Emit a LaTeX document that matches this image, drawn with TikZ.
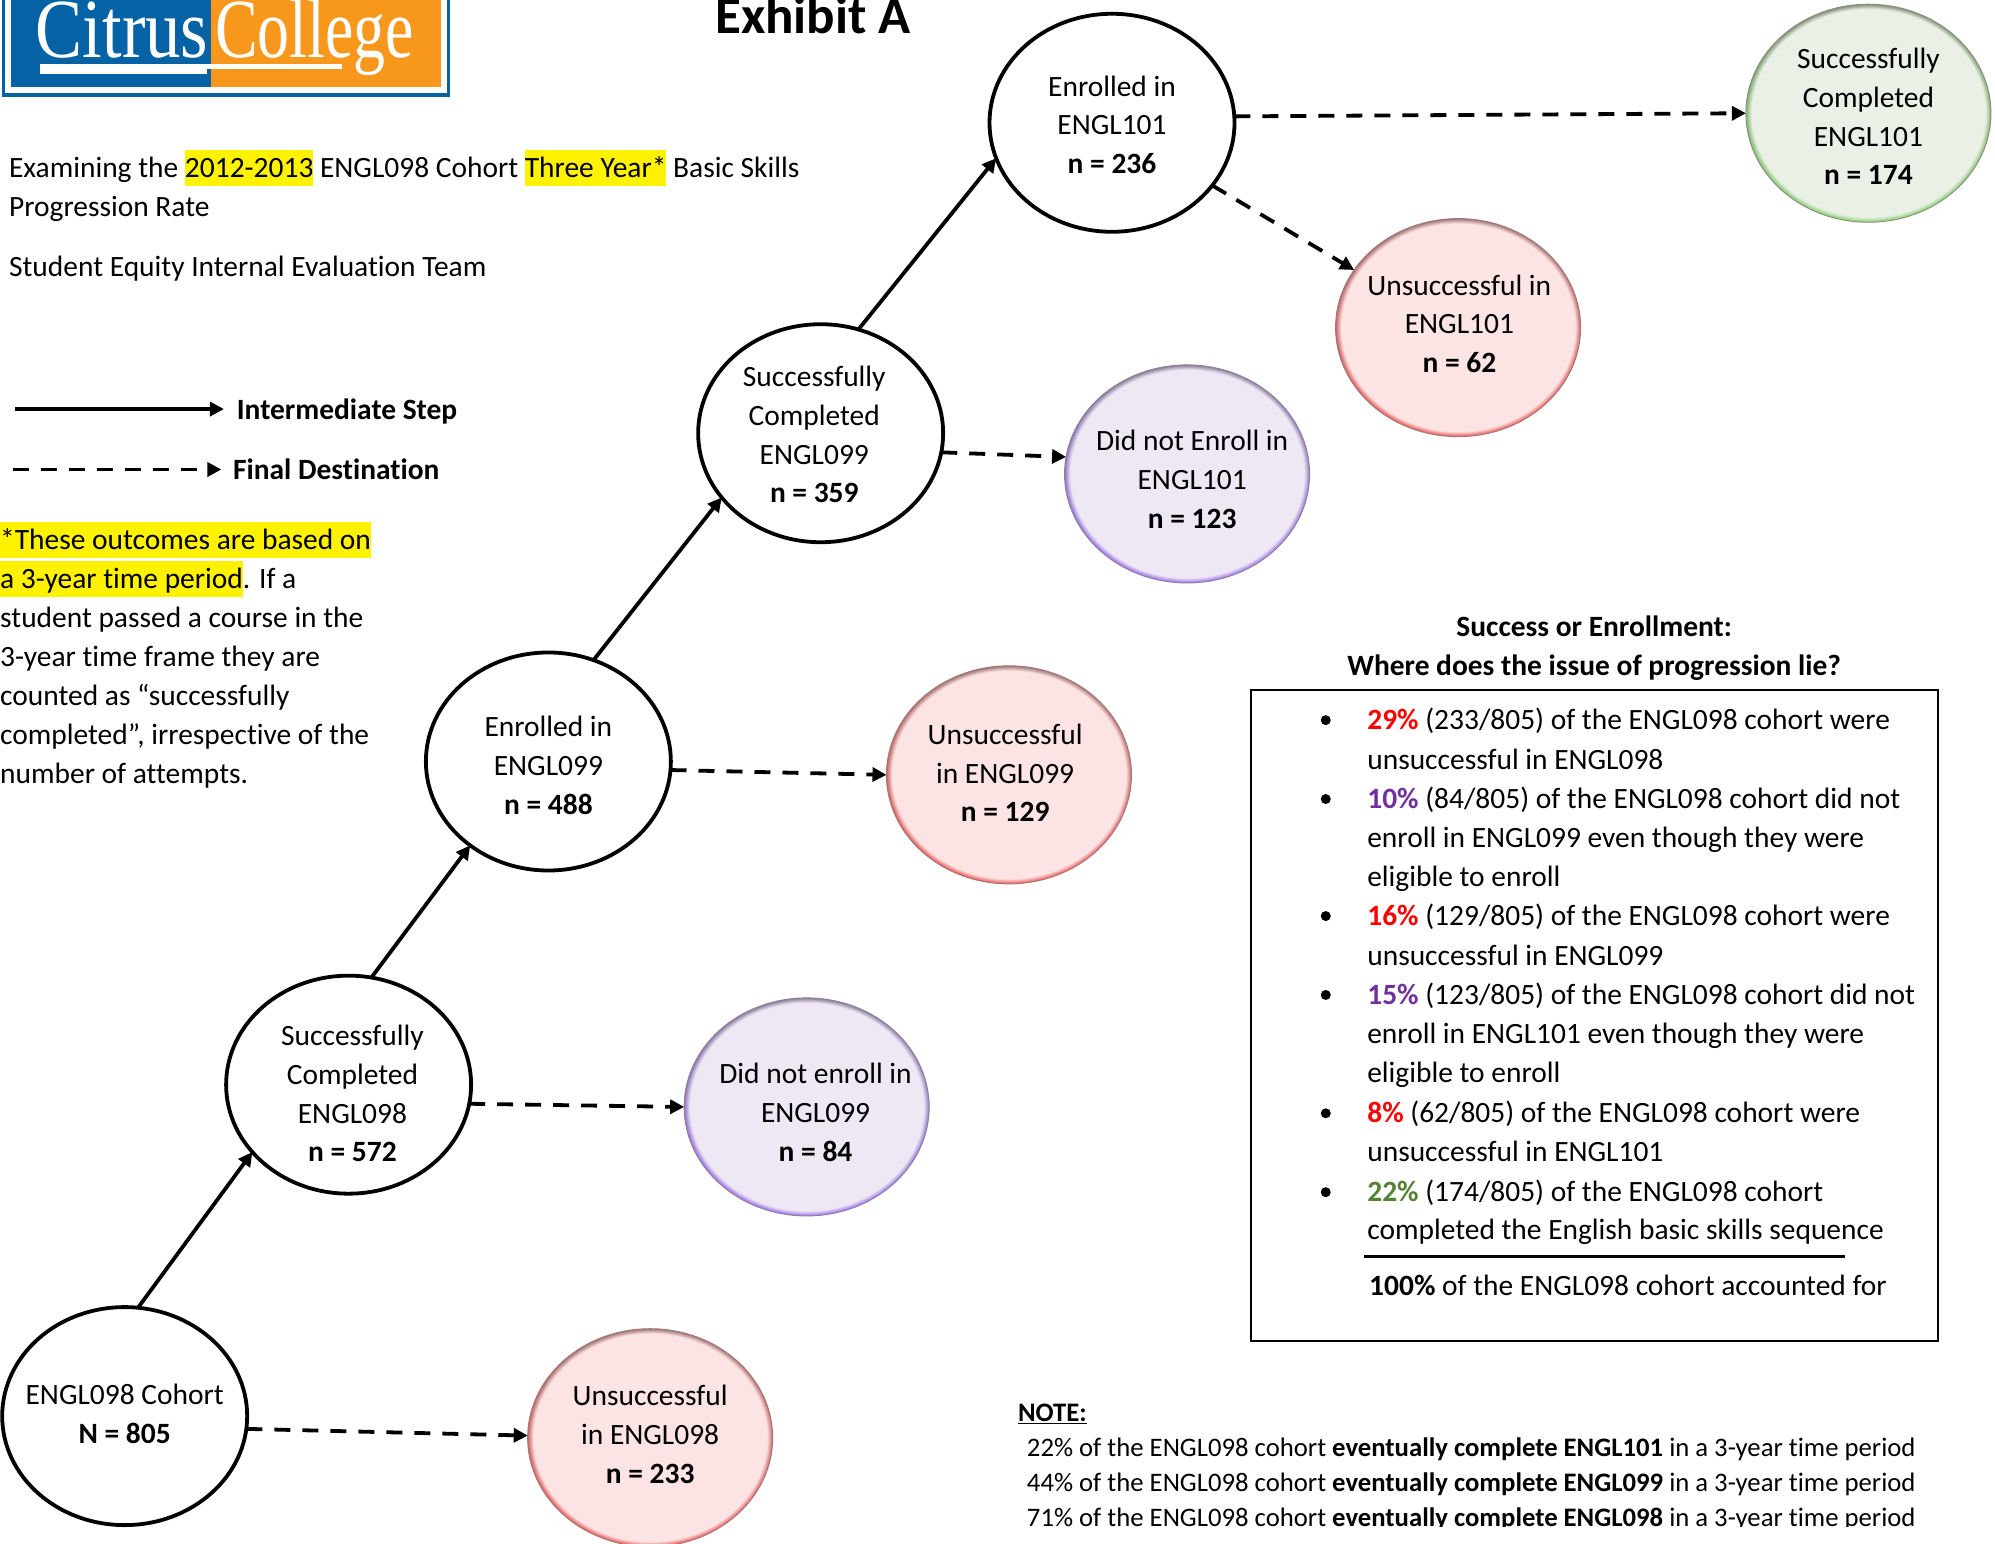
\documentclass[tikz,border=0pt]{standalone}
\usepackage{graphicx}
\usepackage{fontspec}
\setmainfont[Ligatures=NoCommon]{Carlito}
\newfontfamily\logofont{Liberation Serif}
\usetikzlibrary{shapes.geometric,arrows.meta,fadings}
\definecolor{rfill}{HTML}{FCE4E4}\definecolor{redge}{HTML}{F05858}\definecolor{rtop}{HTML}{A07878}
\definecolor{pfill}{HTML}{EEE8F4}\definecolor{pedge}{HTML}{A070F0}\definecolor{ptop}{HTML}{8C8098}
\definecolor{gfill}{HTML}{EAF0E6}\definecolor{gedge}{HTML}{88D070}\definecolor{gtop}{HTML}{84907C}
\definecolor{logoblue}{HTML}{0563A5}\definecolor{logoorange}{HTML}{F7981D}
\definecolor{pctred}{HTML}{FF0000}\definecolor{pctpurple}{HTML}{7030A0}\definecolor{pctgreen}{HTML}{548235}
\pgfdeclareradialshading{rring}{\pgfpoint{0bp}{0bp}}{color(0bp)=(rfill);color(23.9bp)=(rfill);color(25bp)=(redge);color(50bp)=(redge)}
\pgfdeclareradialshading{rtopring}{\pgfpoint{0bp}{0bp}}{color(0bp)=(rfill);color(23.9bp)=(rfill);color(25bp)=(rtop);color(50bp)=(rtop)}
\pgfdeclareradialshading{pring}{\pgfpoint{0bp}{0bp}}{color(0bp)=(pfill);color(23.9bp)=(pfill);color(25bp)=(pedge);color(50bp)=(pedge)}
\pgfdeclareradialshading{ptopring}{\pgfpoint{0bp}{0bp}}{color(0bp)=(pfill);color(23.9bp)=(pfill);color(25bp)=(ptop);color(50bp)=(ptop)}
\pgfdeclareradialshading{gring}{\pgfpoint{0bp}{0bp}}{color(0bp)=(gfill);color(23.9bp)=(gfill);color(25bp)=(gedge);color(50bp)=(gedge)}
\pgfdeclareradialshading{gtopring}{\pgfpoint{0bp}{0bp}}{color(0bp)=(gfill);color(23.9bp)=(gfill);color(25bp)=(gtop);color(50bp)=(gtop)}
\tikzset{
  whitecirc/.style={ellipse,draw=black,line width=3.8pt,fill=white,minimum width=245pt,minimum height=218pt,inner sep=0pt,outer sep=0pt},
  softcirc/.style={ellipse,shade,draw=#1,line width=1pt,minimum width=245pt,minimum height=218pt,inner sep=0pt,outer sep=0pt},
  circtext/.style={align=center,font=\fontsize{29.45}{38.8}\selectfont,inner sep=0pt},
  plain/.style={anchor=base west,font=\fontsize{29.45}{38.8}\selectfont,inner sep=0pt},
  small/.style={anchor=base west,font=\fontsize{26.7}{30}\selectfont,inner sep=0pt},
  centred/.style={anchor=base,font=\fontsize{29.45}{38.8}\selectfont\bfseries,inner sep=0pt},
  stepline/.style={line width=3.8pt,-{Triangle[length=14pt,width=14pt]}},
  finalline/.style={line width=3.8pt,dash pattern=on 16pt off 12pt,-{Triangle[length=14pt,width=14pt]}},
  bulletdot/.style={circle,fill=black,inner sep=0pt,minimum size=10pt},
}
\newcommand{\softball}[6]{% name,x,y,top shading,bottom shading,edge
  \node[softcirc=#6,shading=#4] (#1) at (#2,#3) {};
  \shade[shading=#5,path fading=north] (#1.center) ellipse [x radius=122pt,y radius=108.5pt];
}
\newcommand{\hlite}[1]{{\setlength\fboxsep{0pt}\colorbox{yellow}{\rule[-9pt]{0pt}{36pt}#1}}}
\newcommand{\txtline}[4]{\node[plain] (#1) at (#2,#3) {#4};}
\newcommand{\pct}[2]{\textcolor{#1}{\textbf{#2}}}
\begin{document}
\begin{tikzpicture}[x=1.2723pt,y=-1.2723pt]
\useasboundingbox (0,0) rectangle (1568,1212.8);
\clip (0,0) rectangle (1568,1212.8);
% logo
\fill[logoblue] (1.5,-5) rectangle (354,76.4);
\fill[white] (4,-5) rectangle (351,73);
\fill[logoblue] (8.6,-5) rectangle (166,68.4);
\fill[logoorange] (166,-5) rectangle (346.5,68.4);
\fill[white] (31.6,50.5) rectangle (163,58);
\fill[white] (163,50.5) rectangle (269,54);
\node[anchor=base west,inner sep=0pt,text=white,font=\fontsize{84}{84}\logofont] (logoa) at (28,45) {\scalebox{0.84}[1]{Citrus}};
\node[anchor=base west,inner sep=0pt,text=white,font=\fontsize{84}{84}\logofont] (logob) at (169,45) {\scalebox{0.76}[1]{College}};
% title
\node[anchor=base,inner sep=0pt,font=\fontsize{53}{60}\selectfont\bfseries] (title) at (639,26) {Exhibit A};
% heading text
\txtline{h1}{7}{139.5}{Examining the \hlite{2012-2013} ENGL098 Cohort \hlite{Three Year*} Basic Skills}
\txtline{h2}{7}{170}{Progression Rate}
\txtline{h3}{7}{217}{Student Equity Internal Evaluation Team}
% legend
\coordinate (la) at (12,321.5); \coordinate (lb) at (176,321.5);
\coordinate (lc) at (10,369); \coordinate (ld) at (174,369);
\draw[stepline] (la) -- (lb);
\draw[finalline] (lc) -- (ld);
\node[plain,font=\fontsize{29.45}{38.8}\selectfont\bfseries] (leg1) at (186,329.5) {Intermediate Step};
\node[plain,font=\fontsize{29.45}{38.8}\selectfont\bfseries] (leg2) at (183,376.5) {Final Destination};
% footnote
\txtline{f1}{0}{431.5}{\hlite{*These outcomes are based on}}
\txtline{f2}{0}{462.5}{\hlite{a 3-year time period}. If a}
\txtline{f3}{0}{493}{student passed a course in the}
\txtline{f4}{0}{523.5}{3-year time frame they are}
\txtline{f5}{0}{554.5}{counted as “successfully}
\txtline{f6}{0}{585}{completed”, irrespective of the}
\txtline{f7}{0}{615.5}{number of attempts.}
% coloured circles
\softball{rb}{511}{1130}{rtopring}{rring}{rtop}
\softball{pa}{634}{870}{ptopring}{pring}{ptop}
\softball{rc}{793}{609}{rtopring}{rring}{rtop}
\softball{pb}{933}{372.5}{ptopring}{pring}{ptop}
\softball{rd}{1146}{257.5}{rtopring}{rring}{rtop}
\softball{gd}{1468.5}{89}{gtopring}{gring}{gtop}
% white circles
\node[whitecirc] (ca) at (98,1113) {};
\node[whitecirc] (cb) at (274,852.5) {};
\node[whitecirc] (cc) at (431,598.5) {};
\node[whitecirc] (cd) at (645,340.5) {};
\node[whitecirc] (ce) at (874,96.5) {};
% circle texts
\node[circtext] (ta) at (98,1111) {ENGL098 Cohort\\\textbf{N = 805}};
\node[circtext] (tb) at (277,859.5) {Successfully\\Completed\\ENGL098\\\textbf{n = 572}};
\node[circtext] (tc) at (431,601.5) {Enrolled in\\ENGL099\\\textbf{n = 488}};
\node[circtext] (td) at (640,341.5) {Successfully\\Completed\\ENGL099\\\textbf{n = 359}};
\node[circtext] (te) at (874,98) {Enrolled in\\ENGL101\\\textbf{n = 236}};
\node[circtext] (tf) at (1468.5,91.5) {Successfully\\Completed\\ENGL101\\\textbf{n = 174}};
\node[circtext] (tg) at (1147,254.5) {Unsuccessful in\\ENGL101\\\textbf{n = 62}};
\node[circtext] (th) at (937,377) {Did not Enroll in\\ENGL101\\\textbf{n = 123}};
\node[circtext] (ti) at (790,607.5) {Unsuccessful\\in ENGL099\\\textbf{n = 129}};
\node[circtext] (tj) at (641,874.5) {Did not enroll in\\ENGL099\\\textbf{n = 84}};
\node[circtext] (tk) at (511,1127.5) {Unsuccessful\\in ENGL098\\\textbf{n = 233}};
% connectors
\draw[stepline] (ca.83) -- (cb.215);
\draw[stepline] (cb.78) -- (cc.227);
\draw[stepline] (cc.66) -- (cd.213);
\draw[stepline] (cd.70) -- (ce.197);
\draw[finalline] (ca.-6) -- (rb.179);
\draw[finalline] (cb.-9) -- (pa.180);
\draw[finalline] (cc.-4) -- (rc.180);
\draw[finalline] (cd.-9.5) -- (pb.172);
\draw[finalline] (ce.3) -- (gd.180);
\draw[finalline] (ce.-32) -- (rd.151);
% summary
\node[centred] (s1) at (1253,500) {Success or Enrollment:};
\node[centred] (s2) at (1253,531) {Where does the issue of progression lie?};
\node[draw=black,line width=1.8pt,minimum width=687pt,minimum height=651pt,inner sep=0pt] (sbox) at (1253,798) {};
\foreach \yy/\nm in {566/a,628/b,720/c,782/d,875/e,937/f}{\node[bulletdot] (dot\nm) at (1042,\yy) {};}
\txtline{b1}{1074.5}{573.5}{\pct{pctred}{29\%} (233/805) of the ENGL098 cohort were}
\txtline{b2}{1074.5}{604.5}{unsuccessful in ENGL098}
\txtline{b3}{1074.5}{635.5}{\pct{pctpurple}{10\%} (84/805) of the ENGL098 cohort did not}
\txtline{b4}{1074.5}{666}{enroll in ENGL099 even though they were}
\txtline{b5}{1074.5}{696.5}{eligible to enroll}
\txtline{b6}{1074.5}{727.5}{\pct{pctred}{16\%} (129/805) of the ENGL098 cohort were}
\txtline{b7}{1074.5}{758.5}{unsuccessful in ENGL099}
\txtline{b8}{1074.5}{789.5}{\pct{pctpurple}{15\%} (123/805) of the ENGL098 cohort did not}
\txtline{b9}{1074.5}{820.5}{enroll in ENGL101 even though they were}
\txtline{b10}{1074.5}{850.5}{eligible to enroll}
\txtline{b11}{1074.5}{882.5}{\pct{pctred}{8\%} (62/805) of the ENGL098 cohort were}
\txtline{b12}{1074.5}{912.5}{unsuccessful in ENGL101}
\txtline{b13}{1074.5}{944.5}{\pct{pctgreen}{22\%} (174/805) of the ENGL098 cohort}
\txtline{b14}{1074.5}{974.5}{completed the English basic skills sequence}
\coordinate (ra) at (1072,987.5); \coordinate (rb2) at (1450,987.5);
\draw[line width=3.4pt] (ra) -- (rb2);
\txtline{b15}{1076}{1018.5}{\textbf{100\%} of the ENGL098 cohort accounted for}
% note
\node[small,font=\fontsize{26.7}{30}\selectfont\bfseries] (n0) at (800,1117.5) {\underline{NOTE:}};
\begin{scope}
\clip (790,1122) rectangle (1568,1200);
\node[small] (n1) at (807,1144.5) {22\% of the ENGL098 cohort \textbf{eventually complete ENGL101} in a 3-year time period};
\node[small] (n2) at (807,1172.5) {44\% of the ENGL098 cohort \textbf{eventually complete ENGL099} in a 3-year time period};
\node[small] (n3) at (807,1199.5) {71\% of the ENGL098 cohort \textbf{eventually complete ENGL098} in a 3-year time period};
\end{scope}
\end{tikzpicture}
\end{document}
